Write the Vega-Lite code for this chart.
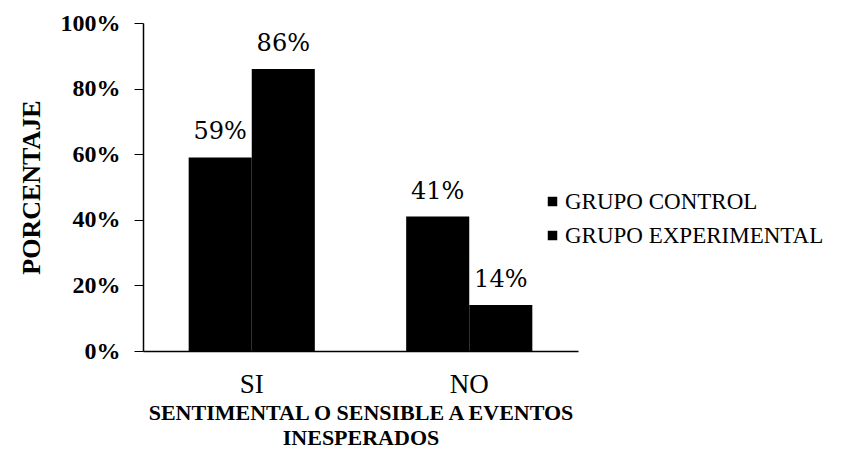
{
  "$schema": "https://vega.github.io/schema/vega-lite/v6.json",
  "autosize": "none",
  "width": 435,
  "height": 328,
  "padding": {"left": 143, "top": 23, "right": 269, "bottom": 113},
  "background": "white",
  "data": {
    "values": [
      {"respuesta": "SI", "grupo": "GRUPO CONTROL", "valor": 0.59},
      {"respuesta": "SI", "grupo": "GRUPO EXPERIMENTAL", "valor": 0.86},
      {"respuesta": "NO", "grupo": "GRUPO CONTROL", "valor": 0.41},
      {"respuesta": "NO", "grupo": "GRUPO EXPERIMENTAL", "valor": 0.14}
    ]
  },
  "encoding": {
    "x": {
      "field": "respuesta",
      "type": "nominal",
      "sort": ["SI", "NO"],
      "scale": {"paddingInner": 0.42, "paddingOuter": 0.21},
      "axis": {
        "title": ["SENTIMENTAL O SENSIBLE A EVENTOS", "INESPERADOS"],
        "titleFont": "Liberation Serif",
        "titleFontSize": 22,
        "titleFontWeight": "bold",
        "titleColor": "black",
        "titleLineHeight": 25,
        "titlePadding": 5,
        "labelFont": "Liberation Serif",
        "labelFontSize": 27,
        "labelColor": "black",
        "labelAngle": 0,
        "labelPadding": 20,
        "ticks": false,
        "domainColor": "black",
        "domainWidth": 1.5
      }
    },
    "xOffset": {"field": "grupo", "type": "nominal", "scale": {"paddingInner": 0}},
    "y": {
      "field": "valor",
      "type": "quantitative",
      "scale": {"domain": [0, 1]},
      "axis": {
        "title": "PORCENTAJE",
        "titleFont": "Liberation Serif",
        "titleFontSize": 26,
        "titleFontWeight": "bold",
        "titleColor": "black",
        "titlePadding": 16,
        "values": [0, 0.2, 0.4, 0.6, 0.8, 1],
        "format": ".0%",
        "labelFont": "Liberation Serif",
        "labelFontSize": 24,
        "labelFontWeight": "bold",
        "labelColor": "black",
        "labelPadding": 14,
        "tickSize": 9,
        "tickColor": "black",
        "domainColor": "black",
        "domainWidth": 1.5,
        "grid": false
      }
    }
  },
  "layer": [
    {
      "mark": {"type": "bar"},
      "encoding": {
        "color": {
          "field": "grupo",
          "type": "nominal",
          "scale": {"range": ["black", "black"]},
          "legend": {
            "title": null,
            "orient": "none",
            "legendX": 398,
            "legendY": 167,
            "symbolType": "square",
            "symbolSize": 90,
            "symbolStrokeWidth": 0,
            "labelFont": "Liberation Serif",
            "labelFontSize": 23,
            "labelColor": "black",
            "labelLimit": 0,
            "labelOffset": 1,
            "rowPadding": 10,
            "padding": 0
          }
        }
      }
    },
    {
      "mark": {"type": "text", "font": "DejaVu Serif", "fontSize": 24, "color": "black", "dy": -25},
      "encoding": {
        "text": {"field": "valor", "type": "quantitative", "format": ".0%"}
      }
    }
  ],
  "config": {"view": {"stroke": null}}
}
